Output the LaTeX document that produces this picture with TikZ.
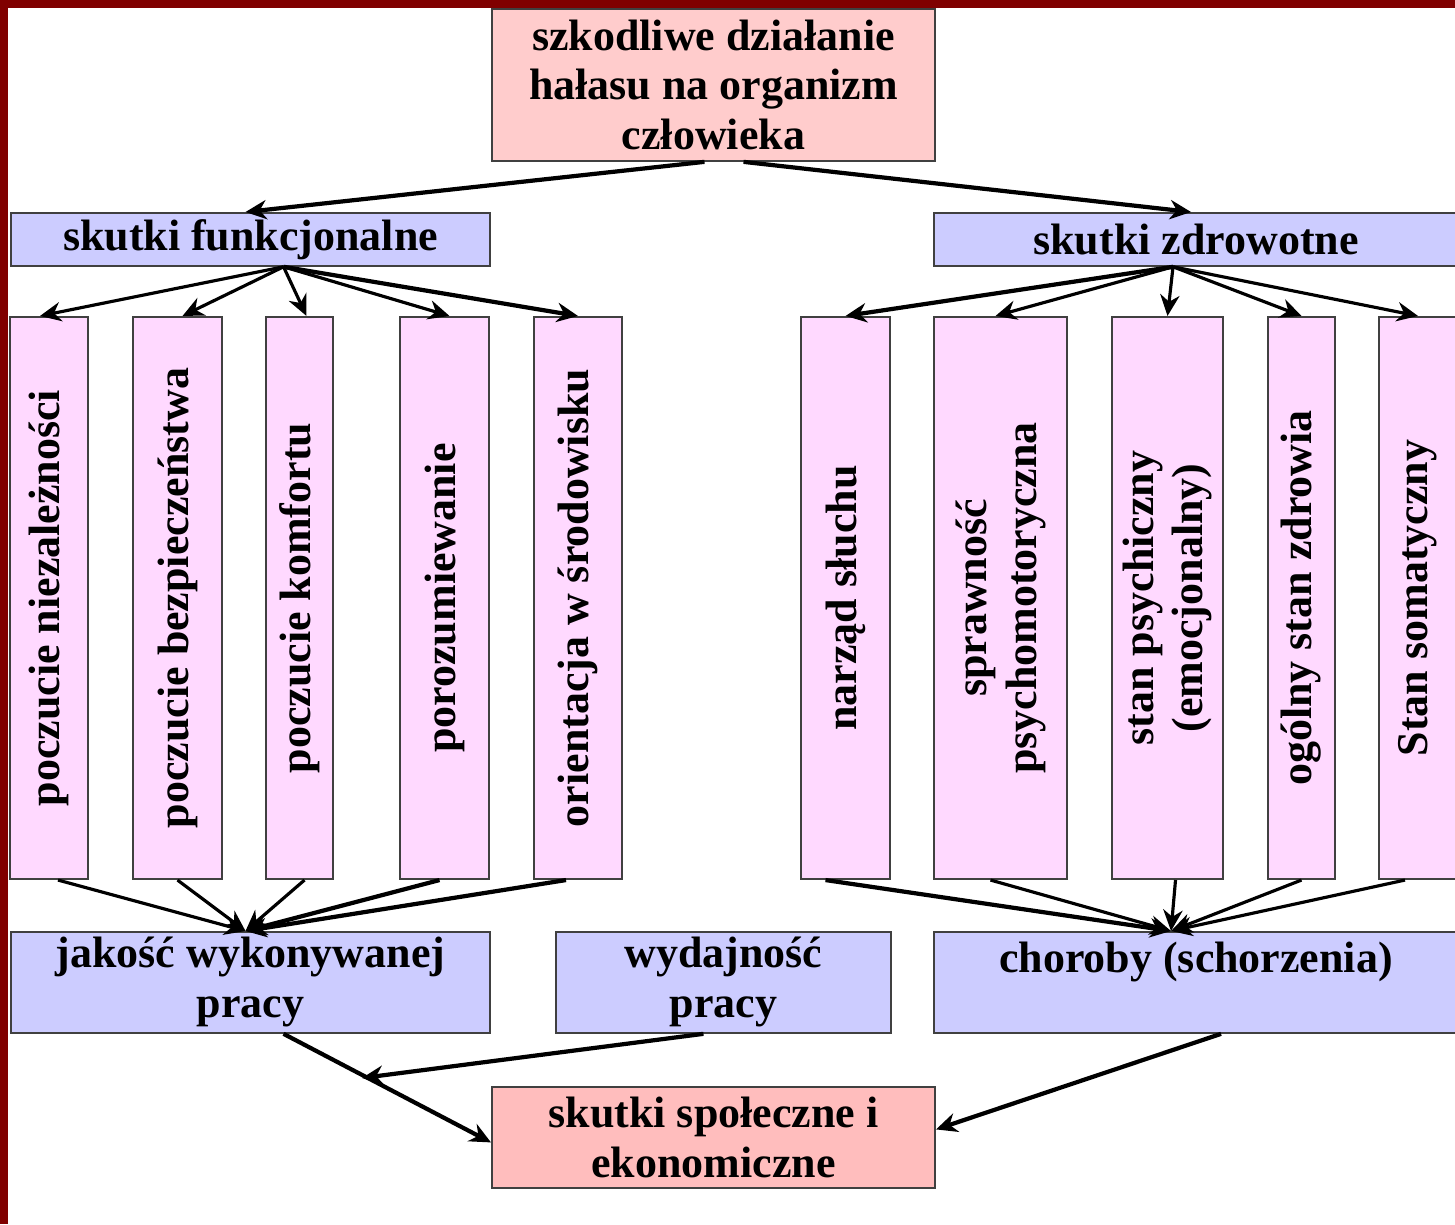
\documentclass[tikz,border=0pt]{standalone}
\usepackage{fontspec}
\setmainfont{Liberation Serif}
\usepackage{xcolor}
\usetikzlibrary{arrows.meta}
\definecolor{topred}{HTML}{FFCCCC}
\definecolor{botred}{HTML}{FFBDBD}
\definecolor{lilac}{HTML}{CCCCFF}
\definecolor{pinkv}{HTML}{FFD9FF}
\definecolor{maroon}{HTML}{800000}

\begin{document}
\begin{tikzpicture}[x=0.01cm,y=-0.01cm,
                    font=\fontsize{12.5}{14.2}\selectfont\bfseries,
                    box/.style={draw=black!75,line width=0.5pt,inner sep=0pt,align=center,anchor=north west},
                    redbox/.style={box,fill=topred,minimum width=4.43cm},
                    bluebox/.style={box,fill=lilac},
                    vbox/.style={draw=black!75,line width=0.5pt,fill=pinkv,inner sep=0pt,align=center,rotate=90,minimum width=5.62cm},
                    arr/.style={-{Stealth[length=6pt,width=5.5pt]},line width=0.9pt},
                    bigarr/.style={arr,line width=1.2pt}]
                    \useasboundingbox (0,0) rectangle (1455,1224);
                    \fill[white] (0,0) rectangle (1455,1224);
                    \fill[maroon] (0,0) rectangle (1455,8);
                    \fill[maroon] (0,0) rectangle (8,1224);

                    \node[redbox,minimum height=1.52cm] (noise) at (491,8){szkodliwe działanie\\hałasu na organizm\\człowieka};
                    \node[bluebox,minimum width=4.79cm,minimum height=0.53cm] (func) at (10,212){skutki funkcjonalne};
                    \node[bluebox,minimum width=5.24cm,minimum height=0.53cm] (health) at (933,212){skutki zdrowotne};

                    \node[vbox,minimum height=0.78cm] (indep) at (49,598){poczucie niezależności};
                    \node[vbox,minimum height=0.89cm] (safety) at (177.5,598){poczucie bezpieczeństwa};
                    \node[vbox,minimum height=0.67cm] (comfort) at (299.5,598){poczucie komfortu};
                    \node[vbox,minimum height=0.89cm] (commun) at (444.5,598){porozumiewanie};
                    \node[vbox,minimum height=0.88cm] (orient) at (578,598){orientacja w środowisku};
                    \node[vbox,minimum height=0.89cm] (hearing) at (845.5,598){narząd słuchu};
                    \node[vbox,minimum height=1.33cm] (motor) at (1000.5,598){sprawność\\psychomotoryczna};
                    \node[vbox,minimum height=1.11cm] (mental) at (1167.5,598){stan psychiczny\\(emocjonalny)};
                    \node[vbox,minimum height=0.67cm] (general) at (1301.5,598){ogólny stan zdrowia};
                    \node[vbox,minimum height=0.78cm] (somatic) at (1418,598){Stan somatyczny};

                    \node[bluebox,minimum width=4.79cm,minimum height=1.01cm] (quality) at (10,931){jakość wykonywanej\\pracy};
                    \node[bluebox,minimum width=3.35cm,minimum height=1.01cm] (output) at (555,931){wydajność\\pracy};
                    \node[bluebox,minimum width=5.24cm,minimum height=1.01cm] (disease) at (933,931){choroby (schorzenia)\\\mbox{}};
                    \node[box,fill=botred,minimum width=4.43cm,minimum height=1.01cm] (social) at (491,1086){skutki społeczne i\\ekonomiczne};

                    \draw[bigarr] ([xshift=-0.09cm]noise.south) -- ([xshift=-0.05cm]func.north);
                    \draw[bigarr] ([xshift=0.3cm]noise.south) -- ([xshift=-0.05cm]health.north);

                    \draw[arr] ([xshift=0.33cm]func.south) -- ([xshift=-0.09cm]indep.east);
                    \draw[arr] ([xshift=0.33cm]func.south) -- ([xshift=0.05cm]safety.east);
                    \draw[arr] ([xshift=0.33cm]func.south) -- ([xshift=0.07cm]comfort.east);
                    \draw[arr] ([xshift=0.33cm]func.south) -- ([xshift=0.05cm]commun.east);
                    \draw[bigarr] ([xshift=0.33cm]func.south) -- (orient.east);
                    \draw[bigarr] ([xshift=-0.23cm]health.south) -- (hearing.east);
                    \draw[arr] ([xshift=-0.23cm]health.south) -- ([xshift=-0.05cm]motor.east);
                    \draw[arr] ([xshift=-0.23cm]health.south) -- (mental.east);
                    \draw[arr] ([xshift=-0.23cm]health.south) -- (general.east);
                    \draw[arr] ([xshift=-0.23cm]health.south) -- (somatic.east);

                    \draw[arr] ([xshift=0.09cm]indep.west) -- ([xshift=-0.05cm]quality.north);
                    \draw[arr] (safety.west) -- ([xshift=-0.05cm]quality.north);
                    \draw[arr] ([xshift=0.05cm]comfort.west) -- ([xshift=-0.05cm]quality.north);
                    \draw[bigarr] ([xshift=-0.05cm]commun.west) -- ([xshift=-0.05cm]quality.north);
                    \draw[bigarr] ([xshift=-0.12cm]orient.west) -- ([xshift=-0.05cm]quality.north);
                    \draw[bigarr] ([xshift=-0.2cm]hearing.west) -- ([xshift=-0.25cm]disease.north);
                    \draw[arr] ([xshift=-0.1cm]motor.west) -- ([xshift=-0.25cm]disease.north);
                    \draw[arr] ([xshift=0.08cm]mental.west) -- ([xshift=-0.25cm]disease.north);
                    \draw[arr] (general.west) -- ([xshift=-0.25cm]disease.north);
                    \draw[arr] ([xshift=-0.13cm]somatic.west) -- ([xshift=-0.25cm]disease.north);

                    \coordinate (meet) at (362,1078);
                    \draw[bigarr] ([xshift=0.33cm]quality.south) -- ([yshift=-0.05cm]social.west);
                    \draw[bigarr] ([xshift=-0.2cm]output.south) -- (meet);
                    \draw[bigarr] ([xshift=0.25cm]disease.south) -- ([yshift=0.08cm]social.east);
                \end{tikzpicture}
\end{document}
